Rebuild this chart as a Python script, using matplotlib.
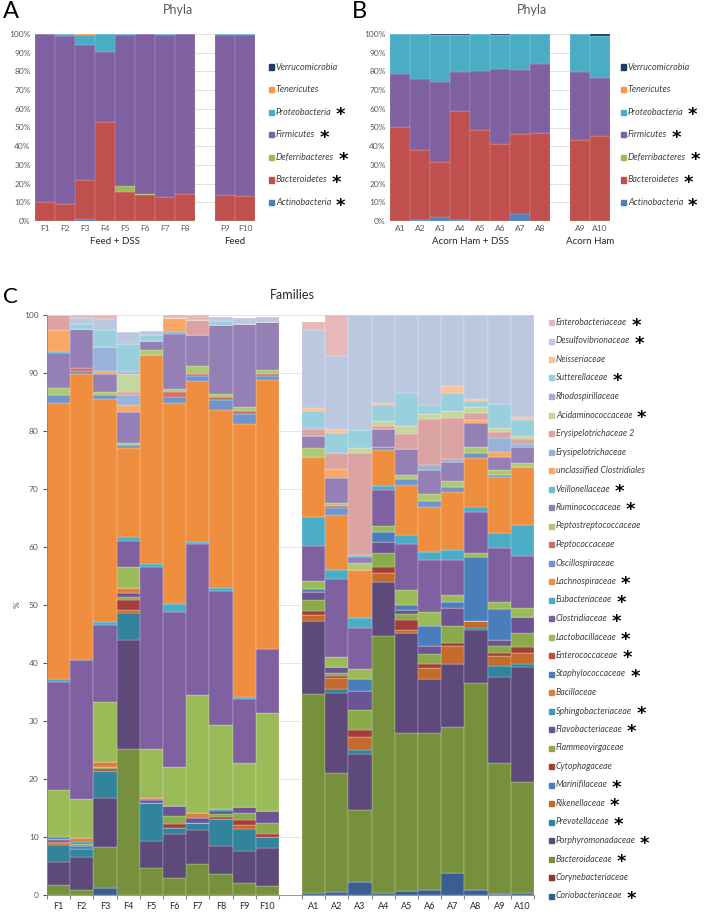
import numpy as np
import matplotlib
matplotlib.use("Agg")
import matplotlib.pyplot as plt
from matplotlib.patches import Rectangle

plt.rcParams["font.family"] = ["Lato", "DejaVu Sans"]

W, H = 709, 914

feed_samples = ["F1", "F2", "F3", "F4", "F5", "F6", "F7", "F8", "F9", "F10"]
acorn_samples = ["A1", "A2", "A3", "A4", "A5", "A6", "A7", "A8", "A9", "A10"]

# ---- phyla, % (F1..F10, A1..A10), bottom to top
actinobacteria = [0, 0, 1.0, 0, 0, 0, 0, 0, 0, 0,
                  0.2, 0.5, 2.0, 0.3, 0, 0, 3.6, 0.2, 0, 0]
bacteroidetes = [10.0, 8.9, 21.0, 52.7, 15.7, 13.9, 13.0, 14.3, 13.9, 13.2,
                 50.0, 37.5, 29.6, 58.5, 48.6, 41.3, 43.0, 46.8, 43.2, 45.3]
deferribacteres = [0, 0, 0, 0, 3.05, 0.4, 0, 0, 0, 0,
                   0, 0, 0, 0, 0, 0, 0, 0, 0, 0]
firmicutes = [90.0, 90.2, 71.9, 37.8, 80.85, 85.7, 86.5, 85.7, 85.6, 86.3,
              28.4, 37.9, 42.7, 21.0, 31.8, 40.1, 34.1, 36.9, 36.6, 31.2]
proteobacteria = [0, 0.9, 5.6, 9.5, 0.4, 0, 0.5, 0, 0.5, 0.5,
                  21.4, 24.0, 25.2, 19.6, 19.6, 18.0, 19.3, 16.1, 20.2, 22.3]
tenericutes = [0, 0, 0.5, 0, 0, 0, 0, 0, 0, 0,
               0, 0, 0, 0, 0, 0, 0, 0, 0, 0]
verrucomicrobia = [0, 0, 0, 0, 0, 0, 0, 0, 0, 0,
                   0, 0, 0.5, 0.6, 0, 0.6, 0, 0, 0, 1.2]

phyla_names = ["Actinobacteria", "Bacteroidetes", "Deferribacteres", "Firmicutes",
               "Proteobacteria", "Tenericutes", "Verrucomicrobia"]
phyla_star = [True, True, True, True, True, False, False]
phyla_colors = ["#4F81BD", "#C0504D", "#9BBB59", "#7F60A0", "#4BACC6", "#F79646", "#1F3B64"]
phyla_values = [actinobacteria, bacteroidetes, deferribacteres, firmicutes,
                proteobacteria, tenericutes, verrucomicrobia]

# ---- families, % (F1..F10, A1..A10), bottom to top
coriobacteriaceae = [0, 0, 1.15, 0, 0, 0, 0, 0, 0, 0,
                     0.35, 0.6, 2.3, 0.3, 0.7, 0.8, 3.85, 0.8, 0.2, 0.4]
corynebacteriaceae = [0] * 20
bacteroidaceae = [1.7, 0.9, 7.15, 25.1, 4.6, 2.9, 5.3, 3.7, 2.1, 1.6,
                  34.35, 20.5, 12.4, 44.4, 27.3, 27.2, 25.15, 35.8, 22.6, 19.1]
porphyromonadaceae = [4.0, 5.7, 8.4, 18.9, 4.7, 7.6, 5.9, 4.7, 5.5, 6.5,
                      12.6, 13.8, 9.6, 9.3, 17.1, 9.2, 10.9, 9.1, 14.8, 19.8]
prevotellaceae = [2.9, 1.3, 4.6, 4.6, 6.5, 1.0, 1.3, 4.7, 3.7, 1.9,
                  0, 0.6, 0.7, 0, 0, 0, 0, 0.3, 1.8, 0.6]
rikenellaceae = [0.3, 0, 0, 0.5, 0, 0, 0, 0, 0.8, 0,
                 1.0, 1.9, 2.3, 1.6, 0.6, 1.9, 3.0, 1.3, 1.8, 1.8]
marinifilaceae = [0, 0.6, 0, 0, 0, 0, 0, 0, 0, 0,
                  0, 0, 0, 0, 0, 0, 0, 0, 0, 0]
cytophagaceae = [0.3, 0, 0.4, 1.8, 0, 0.8, 0, 0.4, 0.8, 0.6,
                 0.6, 0.4, 1.2, 1.0, 1.7, 0.8, 0.6, 0, 0.5, 1.0]
flammeovirgaceae = [0, 0.3, 0.3, 0.5, 0, 1.3, 0, 0.5, 1.3, 1.9,
                    2.0, 0.5, 3.4, 2.3, 1.0, 1.6, 2.9, 0, 1.2, 2.4]
flavobacteriaceae = [0.2, 0, 0, 0.6, 0.5, 1.8, 0.7, 0.5, 1.0, 1.9,
                     1.3, 1.0, 3.3, 2.0, 0.8, 1.4, 3.0, 0, 1.0, 2.8]
sphingobacteriaceae = [0.3, 0.4, 0, 0, 0, 0, 0, 0.3, 0, 0,
                       0, 0, 0, 0, 0, 0, 0, 0, 0, 0]
bacillaceae = [0, 0.7, 1.0, 1.0, 0.5, 0, 0.9, 0, 0, 0,
               0, 0, 0, 0, 0, 0, 0, 0, 0, 0]
staphylococcaceae = [0.3, 0, 0, 0, 0, 0, 0, 0, 0, 0,
                     0.5, 0, 2.0, 1.7, 0.8, 3.5, 1.1, 10.9, 5.4, 0]
enterococcaceae = [0] * 20
lactobacillaceae = [8.1, 6.6, 10.2, 3.5, 8.3, 6.7, 20.4, 14.5, 7.6, 16.9,
                    1.5, 1.8, 1.7, 1.0, 2.6, 2.4, 1.2, 0.7, 1.3, 1.6]
clostridiaceae = [18.7, 24.0, 13.3, 4.6, 31.4, 26.75, 26.0, 23.2, 11.0, 11.1,
                  6.0, 13.3, 7.1, 6.3, 7.9, 8.9, 6.0, 7.2, 9.2, 8.9]
eubacteriaceae = [0.4, 0, 0.5, 0.6, 0.5, 1.35, 0.4, 0.5, 0.3, 0,
                  5.0, 1.7, 1.7, 0.7, 1.5, 1.5, 1.7, 0.8, 2.6, 5.4]
lachnospiraceae = [47.7, 49.4, 38.5, 15.3, 36.1, 34.6, 27.8, 30.6, 47.1, 46.4,
                   10.3, 9.4, 8.4, 6.1, 8.7, 7.7, 10.1, 8.5, 9.7, 10.0]
oscillospiraceae = [1.3, 0.5, 0.7, 0.6, 0, 1.0, 0.8, 1.7, 1.7, 0.7,
                    0, 1.2, 0, 0.5, 1.0, 1.0, 0.9, 0.8, 0.4, 0]
peptococcaceae = [0, 0.4, 0, 0, 0, 1.0, 0.3, 0.5, 0.6, 0.3,
                  0, 0.4, 0, 0, 0, 0, 0, 0, 0, 0]
peptostreptococcaceae = [1.3, 0, 0.6, 0.4, 0.9, 0.4, 1.4, 0.5, 0.7, 0.8,
                         1.6, 0.4, 1.2, 0, 0.7, 1.3, 1.0, 1.1, 0.8, 0.7]
ruminococcaceae = [6.0, 6.7, 3.1, 5.3, 1.5, 9.6, 5.3, 12.0, 14.3, 8.2,
                   2.0, 4.4, 1.0, 3.1, 4.5, 4.1, 3.3, 4.1, 2.2, 2.7]
veillonellaceae = [0.3, 0, 0, 0, 0, 0.3, 0, 0, 0, 0,
                   0, 0, 0.3, 0, 0, 0, 0, 0, 0, 0]
unclassified_clostridiales = [3.7, 0, 0.5, 1.1, 0, 2.4, 0, 0, 0, 0,
                              0, 1.5, 0, 0, 0, 0, 0, 0.5, 0.8, 0]
erysipelotrichaceae = [0, 0, 4.1, 1.8, 0, 0, 0, 0, 0, 0,
                       0, 0, 0, 0, 0, 0.9, 0.5, 0, 2.5, 0.6]
erysipelotrichaceae_2 = [2.5, 0, 0, 0.6, 0, 0, 2.7, 0, 0, 0,
                         1.2, 2.8, 17.6, 0.6, 2.6, 7.8, 7.0, 1.2, 1.1, 0.8]
acidaminococcaceae = [0, 0, 0, 3.1, 0, 0, 0, 0, 0, 0,
                      0, 0, 0.8, 0.8, 1.4, 0.9, 1.3, 1.0, 0.7, 0.6]
rhodospirillaceae = [0, 0, 0, 0.3, 0, 0, 0, 0, 0, 0,
                     0.3, 0, 0, 0, 0, 0, 0, 0, 0, 0]
sutterellaceae = [0, 1.0, 3.0, 4.8, 1.0, 0, 0, 0.7, 0, 0,
                  2.9, 3.5, 3.2, 2.7, 5.6, 1.6, 3.1, 1.0, 4.1, 2.7]
neisseriaceae = [0, 0, 0, 0, 0, 0, 0, 0, 0, 0,
                 0.5, 0.6, 0, 0.5, 0, 0, 1.1, 0.4, 0, 0.6]
desulfovibrionaceae = [0, 1.0, 1.8, 2.0, 0.8, 0, 0, 0.6, 1.0, 0.8,
                       13.4, 12.7, 19.8, 15.1, 13.5, 15.5, 12.3, 14.5, 15.3, 17.5]
enterobacteriaceae = [0, 0.5, 0.7, 0, 0, 0.5, 0.8, 0, 0, 0,
                      1.4, 7.0, 0, 0, 0, 0, 0, 0, 0, 0]

family_names = ["Coriobacteriaceae", "Corynebacteriaceae", "Bacteroidaceae",
                "Porphyromonadaceae", "Prevotellaceae", "Rikenellaceae",
                "Marinifilaceae", "Cytophagaceae", "Flammeovirgaceae",
                "Flavobacteriaceae", "Sphingobacteriaceae", "Bacillaceae",
                "Staphylococcaceae", "Enterococcaceae", "Lactobacillaceae",
                "Clostridiaceae", "Eubacteriaceae", "Lachnospiraceae",
                "Oscillospiraceae", "Peptococcaceae", "Peptostreptococcaceae",
                "Ruminococcaceae", "Veillonellaceae", "unclassified Clostridiales",
                "Erysipelotrichaceae", "Erysipelotrichaceae 2", "Acidaminococcaceae",
                "Rhodospirillaceae", "Sutterellaceae", "Neisseriaceae",
                "Desulfovibrionaceae", "Enterobacteriaceae"]
family_star = [True, False, True, True, True, True, True, False, False, True, True,
               False, True, True, True, True, True, True, False, False, False, True,
               True, False, False, False, True, False, True, False, True, True]
family_values = [coriobacteriaceae, corynebacteriaceae, bacteroidaceae,
                 porphyromonadaceae, prevotellaceae, rikenellaceae, marinifilaceae,
                 cytophagaceae, flammeovirgaceae, flavobacteriaceae,
                 sphingobacteriaceae, bacillaceae, staphylococcaceae,
                 enterococcaceae, lactobacillaceae, clostridiaceae, eubacteriaceae,
                 lachnospiraceae, oscillospiraceae, peptococcaceae,
                 peptostreptococcaceae, ruminococcaceae, veillonellaceae,
                 unclassified_clostridiales, erysipelotrichaceae,
                 erysipelotrichaceae_2, acidaminococcaceae, rhodospirillaceae,
                 sutterellaceae, neisseriaceae, desulfovibrionaceae,
                 enterobacteriaceae]
family_colors = ["#3A5E91", "#8E3432", "#76903D", "#5E4A7A", "#31849B", "#C46A2B",
                 "#4A7EBB", "#A33E3B", "#8AAA4C", "#6C5393", "#3E9BB5", "#D9803D",
                 "#4A7EBB", "#BE4B48", "#9BBB59", "#7F60A0", "#4BACC6", "#EF8E3E",
                 "#6F95CC", "#D0706D", "#AEC873", "#9580B5", "#6DBDD3", "#F9A866",
                 "#98B3DA", "#DBA3A2", "#C4D79F", "#B3A6CB", "#9ACFDE", "#FBC29B",
                 "#BCC8DF", "#E6B9B8"]

fig = plt.figure(figsize=(W / 100, H / 100), dpi=100)


def box(left, top, right, bottom):
    return [left / W, 1 - bottom / H, (right - left) / W, (bottom - top) / H]


def ftext(x, y, s, **kw):
    return fig.text(x / W, 1 - y / H, s, **kw)


def stacked(ax, positions, series, colors, edge, lw):
    base = np.zeros(len(positions))
    for vals, col in zip(series, colors):
        vals = np.asarray(vals, dtype=float)
        ax.bar(positions, vals, width=1.0, bottom=base, color=col,
               edgecolor=edge, linewidth=lw, zorder=2)
        base += vals


# ---------- panels A and B
for i, (left, group, title_x, letter, lab1, lab2) in enumerate([
        (35, slice(0, 10), 178, "A", "Feed + DSS", "Feed"),
        (390, slice(10, 20), 532, "B", "Acorn Ham + DSS", "Acorn Ham")]):
    ax = fig.add_axes(box(left, 34, left + 220, 221))
    pos = np.array([0, 1, 2, 3, 4, 5, 6, 7, 9, 10])
    series = [np.asarray(v)[group] for v in phyla_values]
    stacked(ax, pos, series, phyla_colors, (1, 1, 1, 0.35), 0.3)
    ax.set_xlim(-0.5, 10.5)
    ax.set_ylim(0, 100)
    ax.set_yticks(np.arange(0, 101, 10))
    ax.set_yticklabels([f"{v}%" for v in range(0, 101, 10)])
    ax.set_xticks(pos)
    ax.set_xticklabels((feed_samples if i == 0 else acorn_samples))
    ax.tick_params(length=0, labelsize=6, colors="#595959", pad=3)
    ax.yaxis.grid(True, color="#d9d9d9", linewidth=0.6, zorder=0)
    ax.set_axisbelow(True)
    for s in ax.spines.values():
        s.set_visible(False)
    ftext(left + 80, 242, lab1, fontsize=7, color="#262626", ha="center", va="center")
    ftext(left + 200, 242, lab2, fontsize=7, color="#262626", ha="center", va="center")
    ftext(title_x, 10, "Phyla", fontsize=9, color="#595959", ha="center", va="center")
    ftext(3 if i == 0 else 352, 12, letter, fontsize=17, ha="left", va="center")

# ---------- panel C
axc = fig.add_axes(box(47, 315, 534, 895))
posc = np.r_[np.arange(10), np.arange(11, 21)]
stacked(axc, posc, family_values, family_colors, (1, 1, 1, 0.45), 0.35)
axc.set_xlim(-0.5, 20.5)
axc.set_ylim(0, 100)
axc.set_yticks(np.arange(0, 101, 10))
axc.tick_params(axis="y", length=3, labelsize=6, colors="#595959", pad=3)
axc.set_xticks(np.arange(-0.5, 21, 1.0))
axc.set_xticklabels([])
axc.set_xticks(posc, minor=True)
axc.set_xticklabels(feed_samples + acorn_samples, minor=True)
axc.tick_params(axis="x", which="major", length=3, color="#868686")
axc.tick_params(axis="x", which="minor", length=0, labelsize=6.5, colors="#262626", pad=5)
axc.yaxis.grid(True, color="#dde3ea", linewidth=0.6, zorder=0)
axc.set_axisbelow(True)
for side in ["top", "right"]:
    axc.spines[side].set_visible(False)
for side in ["left", "bottom"]:
    axc.spines[side].set_color("#868686")
    axc.spines[side].set_linewidth(0.6)
ftext(17, 605, "%", fontsize=6, rotation=90, ha="center", va="center", color="#404040")
ftext(292, 295, "Families", fontsize=9, ha="center", va="center", color="#262626")
ftext(3, 297, "C", fontsize=16, ha="left", va="center")

# ---------- legends
stars = []


def entry(x, y, color, name, star, size):
    fig.patches.append(Rectangle((x / W, 1 - (y + 2.5) / H), 5 / W, 5 / H,
                                 transform=fig.transFigure, color=color))
    t = ftext(x + 7, y, name, fontsize=size, style="italic", color="#404040",
              ha="left", va="center")
    if star:
        stars.append((t, y))


for lx in (269, 621):
    for k in range(7):
        idx = 6 - k
        entry(lx, 67 + k * 22.6, phyla_colors[idx], phyla_names[idx], phyla_star[idx], 6.5)

for k in range(32):
    idx = 31 - k
    entry(549, 322.5 + k * 18.5, family_colors[idx], family_names[idx], family_star[idx], 6.3)

fig.canvas.draw()
renderer = fig.canvas.get_renderer()
for t, y in stars:
    bb = t.get_window_extent(renderer)
    ftext(bb.x1 + 4, y + 3, "*", fontsize=13, fontweight="bold", color="black",
          ha="left", va="center", family="DejaVu Sans")

fig.savefig("out.png", dpi=100)
